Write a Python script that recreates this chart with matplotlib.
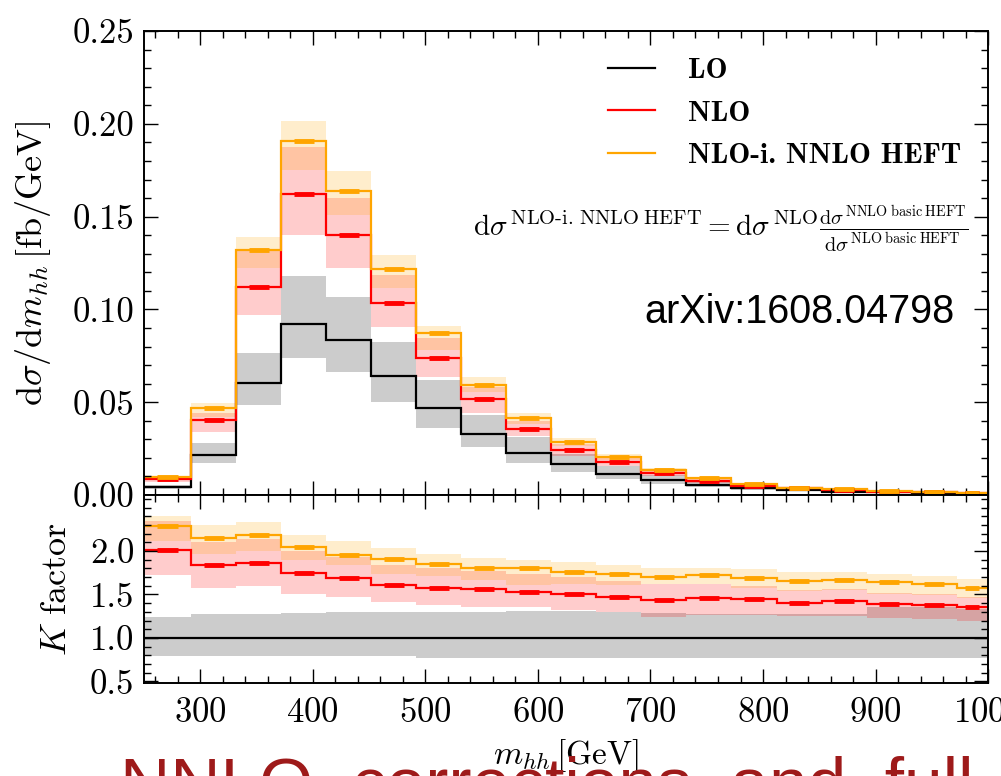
import numpy as np
import matplotlib
matplotlib.use("Agg")
from matplotlib import pyplot as plt
from matplotlib.lines import Line2D
from matplotlib.ticker import MultipleLocator, FixedLocator, FormatStrFormatter

plt.rcParams['mathtext.fontset'] = 'cm'
plt.rcParams['font.family'] = 'serif'
plt.rcParams['font.serif'] = ['cmr10']
plt.rcParams['axes.formatter.use_mathtext'] = True

# bin edges (GeV)
edges = [250, 292, 332, 372, 412, 452, 492, 532, 572, 612, 652, 692, 732,
         772, 812, 852, 892, 932, 972, 1000]

# d sigma / d m_hh  [fb/GeV]
lo = [0.0042, 0.0215, 0.0605, 0.0921, 0.0835, 0.0641, 0.0467, 0.0327, 0.0225, 0.0165,
      0.0113, 0.0081, 0.0054, 0.0036, 0.0027, 0.0018, 0.0014, 0.0011, 0.0008]
lo_down = [0.0033, 0.0171, 0.0485, 0.0736, 0.0664, 0.0503, 0.0359, 0.0257, 0.0171, 0.0125,
           0.0088, 0.0062, 0.0042, 0.0028, 0.0020, 0.0014, 0.0011, 0.0008, 0.0006]
lo_up = [0.0053, 0.0278, 0.0763, 0.1180, 0.1065, 0.0826, 0.0620, 0.0431, 0.0314, 0.0220,
         0.0155, 0.0110, 0.0075, 0.0050, 0.0037, 0.0025, 0.0019, 0.0015, 0.0011]

nlo = [0.0085, 0.0404, 0.1122, 0.1622, 0.1400, 0.1036, 0.0736, 0.0517, 0.0354, 0.0242,
       0.0180, 0.0117, 0.0075, 0.0050, 0.0036, 0.0027, 0.0018, 0.0015, 0.0011]
nlo_down = [0.0068, 0.0341, 0.0970, 0.1400, 0.1221, 0.0907, 0.0637, 0.0440, 0.0316, 0.0210,
            0.0155, 0.0100, 0.0064, 0.0043, 0.0031, 0.0023, 0.0015, 0.0013, 0.0009]
nlo_up = [0.0098, 0.0440, 0.1317, 0.1877, 0.1600, 0.1185, 0.0844, 0.0580, 0.0398, 0.0275,
          0.0205, 0.0133, 0.0085, 0.0057, 0.0041, 0.0031, 0.0021, 0.0017, 0.0013]

heft = [0.0097, 0.0467, 0.1320, 0.1909, 0.1640, 0.1216, 0.0871, 0.0593, 0.0413, 0.0287,
        0.0206, 0.0135, 0.0090, 0.0059, 0.0039, 0.0031, 0.0023, 0.0018, 0.0013]
heft_down = [0.0090, 0.0422, 0.1221, 0.1751, 0.1509, 0.1114, 0.0781, 0.0557, 0.0380, 0.0265,
             0.0190, 0.0125, 0.0083, 0.0055, 0.0036, 0.0029, 0.0021, 0.0017, 0.0012]
heft_up = [0.0104, 0.0494, 0.1392, 0.2015, 0.1747, 0.1291, 0.0910, 0.0634, 0.0441, 0.0305,
           0.0220, 0.0145, 0.0096, 0.0063, 0.0042, 0.0033, 0.0025, 0.0019, 0.0014]

# K factors
k_lo = [1.0] * 19
k_lo_down = [0.797] * 6 + [0.767] * 13
k_lo_up = [1.245, 1.276, 1.276, 1.29, 1.30, 1.30, 1.30, 1.30, 1.31, 1.31,
           1.30, 1.29, 1.28, 1.28, 1.27, 1.27, 1.36, 1.35, 1.33]

k_nlo = [2.01, 1.84, 1.865, 1.75, 1.686, 1.61, 1.58, 1.56, 1.53, 1.506,
         1.475, 1.44, 1.456, 1.445, 1.406, 1.425, 1.39, 1.38, 1.35]
k_nlo_down = [1.72, 1.57, 1.60, 1.51, 1.47, 1.41, 1.38, 1.36, 1.36, 1.32,
              1.30, 1.245, 1.26, 1.26, 1.25, 1.25, 1.23, 1.215, 1.19]
k_nlo_up = [2.34, 2.10, 2.14, 2.00, 1.93, 1.84, 1.80, 1.77, 1.73, 1.70,
            1.66, 1.62, 1.62, 1.60, 1.55, 1.56, 1.52, 1.50, 1.47]

k_heft = [2.29, 2.146, 2.18, 2.05, 1.954, 1.905, 1.85, 1.81, 1.80, 1.76,
          1.74, 1.70, 1.72, 1.686, 1.65, 1.667, 1.64, 1.617, 1.57]
k_heft_down = [2.12, 1.97, 2.00, 1.90, 1.84, 1.74, 1.71, 1.67, 1.61, 1.62,
               1.61, 1.62, 1.62, 1.57, 1.54, 1.55, 1.51, 1.49, 1.46]
k_heft_up = [2.40, 2.30, 2.33, 2.19, 2.11, 2.03, 1.97, 1.92, 1.90, 1.87,
             1.84, 1.80, 1.81, 1.79, 1.76, 1.76, 1.735, 1.71, 1.675]

C_LO = 'black'
C_NLO = '#ff0000'
C_HEFT = '#ffa500'


def draw_panel(ax, curves):
    for vals, down, up, col, marks in curves:
        ax.stairs(up, edges, baseline=down, fill=True, color=col, alpha=0.2, lw=0)
    e = np.array(edges)
    centers = 0.5 * (e[1:] + e[:-1])
    widths = e[1:] - e[:-1]
    for vals, down, up, col, marks in curves:
        ax.stairs(vals, edges, baseline=None, color=col, lw=1.6)
        if marks:
            # small stat. error markers in the middle of each bin
            ax.hlines(vals, centers - 0.22 * widths, centers + 0.22 * widths,
                      color=col, lw=3.5)


def style_axis(ax):
    ax.tick_params(which='both', direction='in', top=True, right=True, width=1.0,
                   labelsize=25, pad=7)
    ax.tick_params(which='major', length=10)
    ax.tick_params(which='minor', length=5)
    ax.xaxis.set_major_locator(MultipleLocator(100))
    ax.xaxis.set_minor_locator(MultipleLocator(20))
    for s in ax.spines.values():
        s.set_linewidth(1.4)


fig = plt.figure(figsize=(10.01, 7.76), dpi=100)
ax1 = fig.add_axes([0.1439, 0.3621, 0.8432, 0.5979])
ax2 = fig.add_axes([0.1439, 0.1198, 0.8432, 0.2423])

draw_panel(ax1, [(lo, lo_down, lo_up, C_LO, False), (nlo, nlo_down, nlo_up, C_NLO, True),
                 (heft, heft_down, heft_up, C_HEFT, True)])
draw_panel(ax2, [(k_lo, k_lo_down, k_lo_up, C_LO, False),
                 (k_nlo, k_nlo_down, k_nlo_up, C_NLO, True),
                 (k_heft, k_heft_down, k_heft_up, C_HEFT, True)])

ax1.set_xlim(250, 1000)
ax1.set_ylim(0, 0.25)
ax1.yaxis.set_major_locator(MultipleLocator(0.05))
ax1.yaxis.set_minor_locator(MultipleLocator(0.01))
ax1.yaxis.set_major_formatter(FormatStrFormatter('%.2f'))
style_axis(ax1)
ax1.tick_params(labelbottom=False)
ax1.set_ylabel(r'$\mathrm{d}\sigma/\mathrm{d}m_{hh}\,[\mathrm{fb}/\mathrm{GeV}]$', fontsize=26,
               labelpad=14)

ax2.set_xlim(250, 1000)
ax2.set_ylim(0.48, 2.645)
ax2.yaxis.set_major_locator(FixedLocator([0.5, 1.0, 1.5, 2.0]))
ax2.yaxis.set_minor_locator(MultipleLocator(0.1))
ax2.yaxis.set_major_formatter(FormatStrFormatter('%.1f'))
style_axis(ax2)
ax2.tick_params(axis='x', pad=10)
ax2.set_ylabel(r'$K\ \mathrm{factor}$', fontsize=26, labelpad=12)
ax2.set_xlabel(r'$m_{hh}\,[\mathrm{GeV}]$', fontsize=24, labelpad=6)

handles = [Line2D([], [], color=C_LO, lw=1.6), Line2D([], [], color=C_NLO, lw=1.6),
           Line2D([], [], color=C_HEFT, lw=1.6)]
fig.legend(handles, ['LO', 'NLO', 'NLO-i. NNLO HEFT'], loc='upper left',
           bbox_to_anchor=(608 / 1001, 1 - 58 / 776), frameon=False, borderpad=0,
           borderaxespad=0, handlelength=1.6, handletextpad=1.15, labelspacing=0.54,
           prop={'family': 'cmb10', 'size': 21})

fig.text(968 / 1001, 1 - 229 / 776,
         r'$\mathrm{d}\sigma^{\,\mathrm{NLO}\text{-}\mathrm{i.\,NNLO\;HEFT}}'
         r'=\mathrm{d}\sigma^{\,\mathrm{NLO}}'
         r'\frac{\mathrm{d}\sigma^{\,\mathrm{NNLO\;basic\;HEFT}}}{\mathrm{d}\sigma^{\,\mathrm{NLO\;basic\;HEFT}}}$',
         ha='right', va='center', fontsize=21)

fig.text(955 / 1001, 1 - 312 / 776, 'arXiv:1608.04798', ha='right', va='center',
         fontsize=28.5, family='Liberation Sans', color='black')

fig.text(120 / 1001, 1 - 756 / 776, 'NNLO  corrections  and  full  NLO', ha='left', va='top',
         fontsize=50, family='Liberation Sans', color='#9e1a1a')

fig.savefig('out.png', dpi=100)
